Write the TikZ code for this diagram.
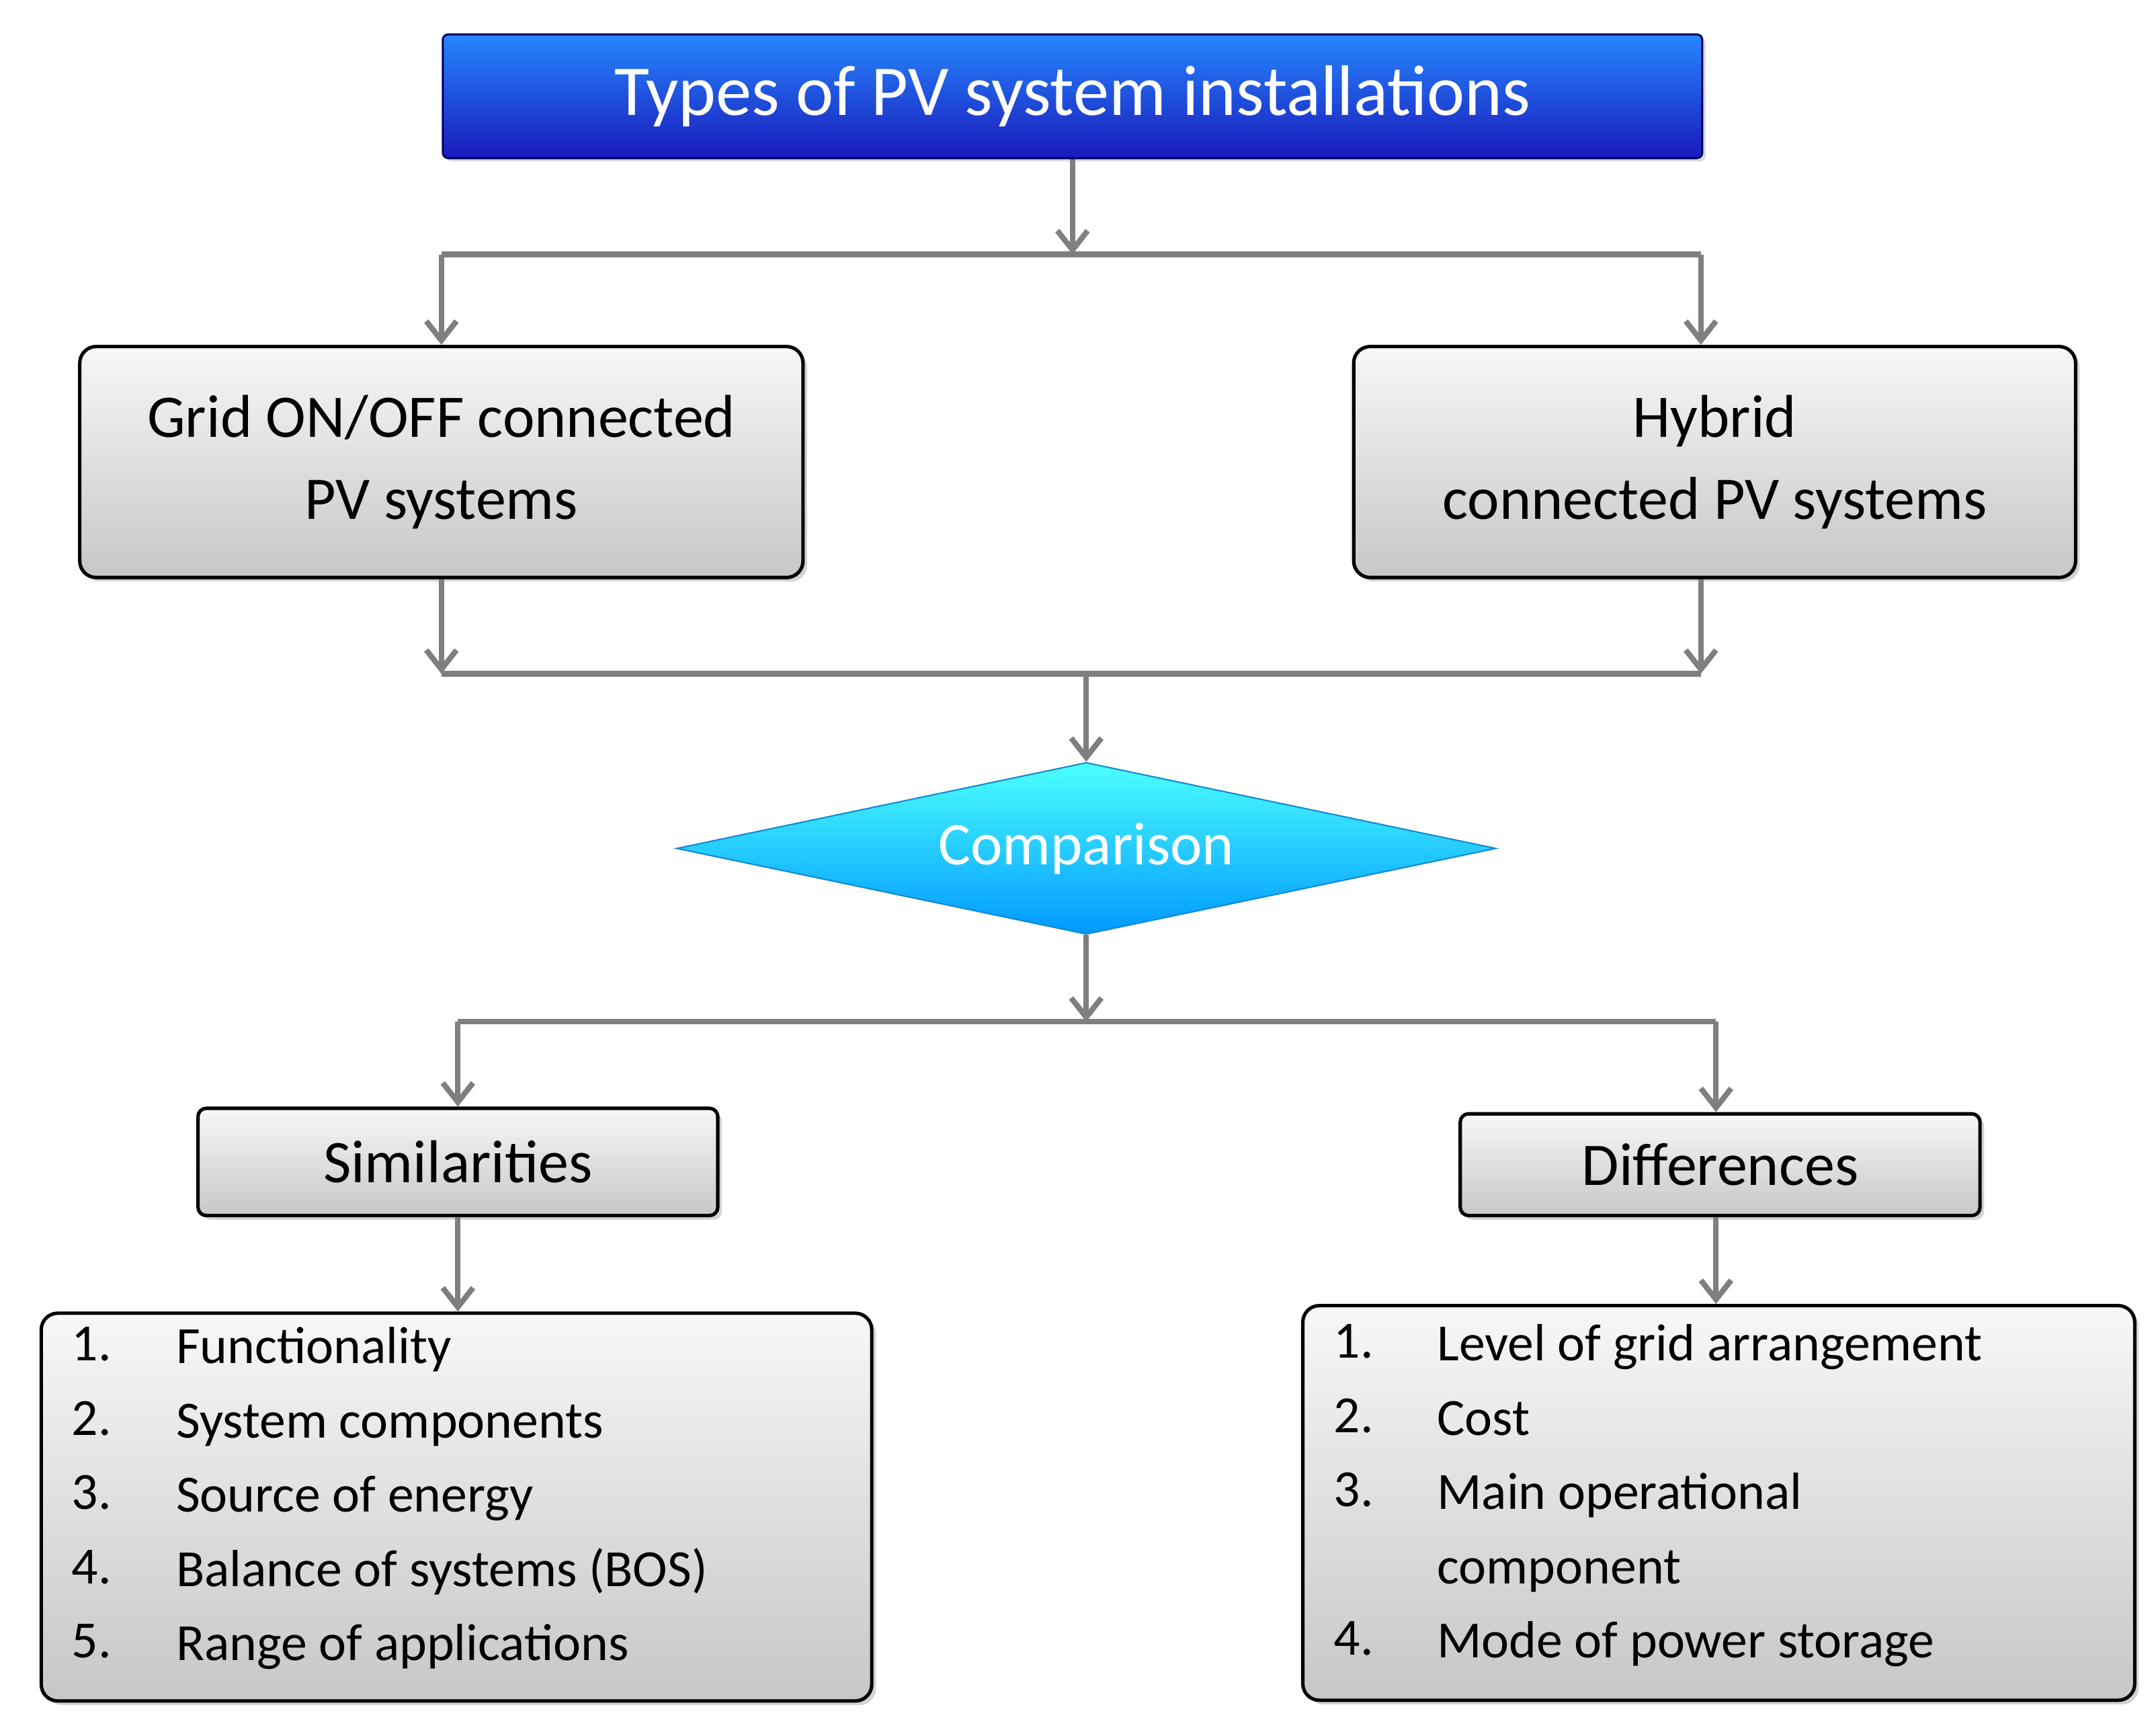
\documentclass[tikz,border=0pt]{standalone}
\usepackage{fontspec}
\setmainfont{Carlito}
\usetikzlibrary{shapes.geometric,shadows,arrows.meta}
\definecolor{ln}{HTML}{7F7F7F}
\begin{document}
\begin{tikzpicture}[x=1pt,y=-1pt,
 gbox/.style={draw=black,line width=2.5pt,rounded corners=12pt,top color=white!97!black,bottom color=black!22,drop shadow={opacity=0.35,shadow xshift=3pt,shadow yshift=-3pt},align=center,font=\fontsize{44}{60}\selectfont,inner sep=0pt},
 arr/.style={draw=ln,line width=4pt,-{Straight Barb[length=14pt,width=22pt,line width=4pt]}},
 ln/.style={draw=ln,line width=4pt},
 lst/.style={font=\fontsize{38}{54}\selectfont,anchor=north west,inner sep=0pt,align=left}]
\useasboundingbox (0,0) rectangle (1568,1261);
\node[draw=blue!40!black,line width=1.5pt,rounded corners=4pt,top color=blue!55!cyan!85,bottom color=blue!70!black!90,minimum width=916pt,minimum height=90pt,text=white,font=\fontsize{52}{60}\selectfont,drop shadow={opacity=0.3}] (title) at (780,70) {Types of PV system installations};
\node[gbox,minimum width=526pt,minimum height=168pt] (grid) at (321,336) {Grid ON/OFF connected\\PV systems};
\node[gbox,minimum width=525pt,minimum height=168pt] (hyb) at (1247,336) {Hybrid\\connected PV systems};
\node[diamond,aspect=4.77,minimum width=596pt,minimum height=125pt,inner sep=0pt,draw=cyan!70!blue,line width=1pt,top color=cyan!70!white,bottom color=cyan!60!blue,text=white,font=\fontsize{44}{50}\selectfont] (cmp) at (790,617) {Comparison};
\node[gbox,rounded corners=6pt,minimum width=378pt,minimum height=78pt] (sim) at (333,845) {Similarities};
\node[gbox,rounded corners=6pt,minimum width=378pt,minimum height=74pt] (dif) at (1251,847) {Differences};
\node[gbox,minimum width=604pt,minimum height=282pt] (ls) at (332,1096) {};
\node[gbox,minimum width=605pt,minimum height=287pt] (ld) at (1250,1093) {};
\node[lst] (t1) at (52,965) {1.\\2.\\3.\\4.\\5.};
\node[lst] (t2) at (128,965) {Functionality\\System components\\Source of energy\\Balance of systems (BOS)\\Range of applications};
\node[lst] (t3) at (970,963) {1.\\2.\\3.\\\\4.};
\node[lst] (t4) at (1045,963) {Level of grid arrangement\\Cost\\Main operational\\component\\Mode of power storage};
\coordinate (j1) at (780,185);
\coordinate (j1l) at (321,185);
\coordinate (j1r) at (1237,185);
\coordinate (j2l) at (321,490);
\coordinate (j2r) at (1237,490);
\coordinate (j2) at (790,490);
\coordinate (j3) at (790,743);
\coordinate (j3l) at (333,743);
\coordinate (j3r) at (1248,743);
\draw[arr] (title.south -| j1) -- (j1);
\draw[ln] (j1l) -- (j1r);
\draw[arr] (j1l) -- (grid.north -| j1l);
\draw[arr] (j1r) -- (hyb.north -| j1r);
\draw[arr] (grid.south -| j2l) -- (j2l);
\draw[arr] (hyb.south -| j2r) -- (j2r);
\draw[ln] (j2l) -- (j2r);
\draw[arr] (j2) -- (cmp.north);
\draw[arr] (cmp.south) -- (j3);
\draw[ln] (j3l) -- (j3r);
\draw[arr] (j3l) -- (sim.north -| j3l);
\draw[arr] (j3r) -- (dif.north -| j3r);
\draw[arr] (sim.south) -- (ls.north -| sim.south);
\draw[arr] (dif.south -| j3r) -- (ld.north -| j3r);
\end{tikzpicture}
\end{document}
